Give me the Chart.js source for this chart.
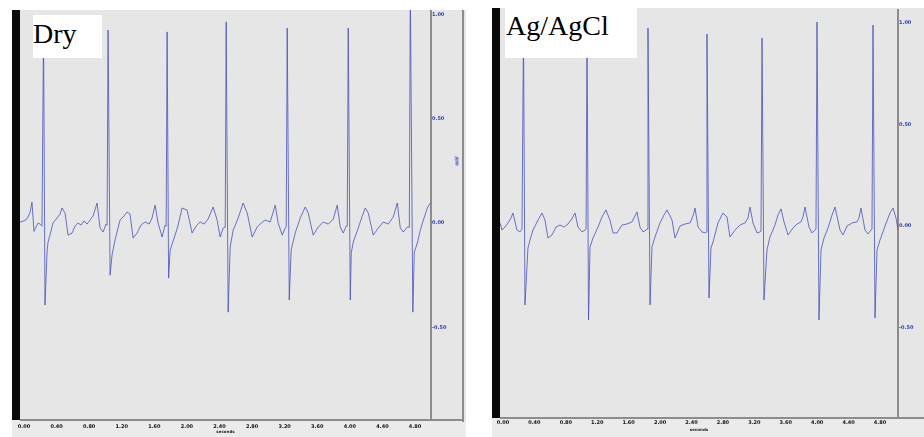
<!DOCTYPE html>
<html>
<head>
<meta charset="utf-8">
<script src="https://cdn.jsdelivr.net/npm/chart.js@4.4.1/dist/chart.umd.min.js"></script>
<style>
  body { margin: 0; background: #fff; width: 924px; height: 437px; position: relative; overflow: hidden; }
  .panel { position: absolute; background: #e6e6e6; }
  .bar { position: absolute; background: #0a0a0a; }
  canvas { position: absolute; }
  .tag { position: absolute; background: #fff; font-family: "Times New Roman", "Liberation Serif", "DejaVu Serif", serif; font-size: 28px; line-height: 28px; color: #000; }
  .tag span { position: absolute; white-space: nowrap; }
  .unit { position: absolute; font: bold 5px "DejaVu Sans", sans-serif; color: #2b3fb5; transform: rotate(-90deg); }
</style>
</head>
<body>
<div class="panel" style="left:12px;top:10px;width:454px;height:427px"></div>
<div class="panel" style="left:492px;top:8px;width:432px;height:429px"></div>
<canvas id="dry" width="454" height="427" style="left:12px;top:10px"></canvas>
<canvas id="ag" width="432" height="428" style="left:492px;top:9px"></canvas>
<div class="bar" style="left:12px;top:10px;width:8px;height:410px"></div>
<div class="bar" style="left:492px;top:8px;width:8px;height:410px"></div>
<div class="tag" style="left:33px;top:15px;width:69px;height:43px"><span style="left:0;top:5px">Dry</span></div>
<div class="tag" style="left:505px;top:8px;width:132px;height:50px"><span style="left:1px;top:4px">Ag/AgCl</span></div>
<div class="unit" style="left:452px;top:158px">mV</div>
<script>
// Dry electrode trace (seconds, mV)
let dryTime = [-0.049, 0.000, 0.037, 0.074, 0.098, 0.123, 0.147, 0.172, 0.197, 0.221, 0.240, 0.258, 0.283, 0.295, 0.319, 0.356, 0.405, 0.442, 0.467, 0.504, 0.541, 0.590, 0.627, 0.663, 0.700, 0.737, 0.774, 0.811, 0.848, 0.897, 0.934, 0.971, 1.007, 1.020, 1.032, 1.057, 1.081, 1.118, 1.179, 1.229, 1.265, 1.302, 1.339, 1.388, 1.437, 1.486, 1.536, 1.572, 1.609, 1.646, 1.695, 1.732, 1.745, 1.757, 1.775, 1.794, 1.855, 1.892, 1.941, 2.002, 2.064, 2.113, 2.162, 2.211, 2.260, 2.322, 2.371, 2.408, 2.445, 2.470, 2.482, 2.506, 2.531, 2.568, 2.629, 2.690, 2.740, 2.801, 2.862, 2.912, 2.961, 3.022, 3.084, 3.120, 3.170, 3.206, 3.219, 3.231, 3.256, 3.280, 3.329, 3.391, 3.452, 3.489, 3.550, 3.612, 3.673, 3.735, 3.796, 3.845, 3.882, 3.919, 3.956, 3.968, 3.980, 4.005, 4.017, 4.042, 4.103, 4.152, 4.189, 4.226, 4.287, 4.349, 4.410, 4.472, 4.533, 4.582, 4.619, 4.656, 4.705, 4.730, 4.742, 4.773, 4.791, 4.828, 4.865, 4.902, 4.951, 4.988];
let dryMv = [0.005, 0.010, 0.020, 0.050, 0.100, -0.040, -0.020, 0.000, -0.005, -0.015, 0.925, -0.393, -0.139, -0.091, -0.058, 0.000, 0.024, 0.043, 0.072, 0.048, -0.058, -0.048, -0.014, 0.000, -0.010, 0.010, -0.005, 0.014, 0.034, 0.096, -0.024, -0.043, -0.005, -0.010, 0.925, -0.250, -0.153, -0.081, 0.014, 0.034, 0.053, 0.043, -0.072, -0.048, -0.010, 0.005, -0.005, 0.024, 0.086, 0.000, -0.067, -0.010, -0.015, 0.916, -0.264, -0.129, -0.058, -0.010, 0.072, 0.062, -0.048, -0.014, 0.005, -0.005, 0.019, 0.077, 0.014, -0.067, -0.024, -0.020, 0.964, -0.427, -0.115, -0.034, 0.024, 0.096, 0.048, -0.067, -0.019, 0.000, 0.014, 0.005, 0.086, 0.000, -0.058, -0.024, -0.020, 0.935, -0.369, -0.129, -0.048, 0.024, 0.077, 0.048, -0.058, -0.019, 0.005, -0.005, 0.019, 0.086, -0.019, -0.048, -0.014, -0.015, 0.935, -0.369, -0.144, -0.091, -0.024, 0.034, 0.072, 0.048, -0.058, -0.024, 0.005, -0.005, 0.029, 0.096, -0.024, -0.043, -0.019, -0.020, 1.120, -0.427, -0.139, -0.096, -0.034, 0.014, 0.072, 0.096];

// Ag/AgCl electrode trace (seconds, mV)
let agTime = [-0.038, -0.013, 0.025, 0.064, 0.102, 0.127, 0.178, 0.216, 0.242, 0.261, 0.280, 0.318, 0.344, 0.382, 0.446, 0.497, 0.535, 0.573, 0.624, 0.675, 0.726, 0.777, 0.828, 0.866, 0.917, 0.955, 1.006, 1.044, 1.058, 1.070, 1.089, 1.108, 1.146, 1.210, 1.260, 1.311, 1.362, 1.401, 1.452, 1.515, 1.579, 1.642, 1.706, 1.744, 1.783, 1.821, 1.834, 1.846, 1.872, 1.897, 1.935, 1.999, 2.050, 2.088, 2.152, 2.190, 2.254, 2.317, 2.381, 2.419, 2.445, 2.483, 2.534, 2.572, 2.585, 2.597, 2.623, 2.648, 2.674, 2.737, 2.801, 2.852, 2.890, 2.954, 3.018, 3.081, 3.119, 3.145, 3.183, 3.234, 3.272, 3.285, 3.298, 3.323, 3.361, 3.399, 3.463, 3.501, 3.540, 3.578, 3.629, 3.692, 3.743, 3.794, 3.819, 3.845, 3.896, 3.934, 3.972, 3.985, 3.998, 4.023, 4.049, 4.087, 4.138, 4.189, 4.227, 4.291, 4.329, 4.380, 4.444, 4.507, 4.532, 4.558, 4.609, 4.647, 4.685, 4.698, 4.711, 4.736, 4.762, 4.800, 4.864, 4.927, 4.966, 5.004, 5.029];
let agMv = [0.015, -0.020, -0.005, 0.015, 0.039, 0.064, -0.020, -0.029, -0.015, 0.973, -0.388, -0.108, -0.069, -0.020, 0.029, 0.064, 0.029, -0.059, -0.044, -0.005, 0.005, -0.005, 0.010, 0.029, 0.064, -0.005, -0.029, -0.020, -0.015, 0.973, -0.462, -0.103, -0.059, -0.005, 0.044, 0.079, 0.029, -0.034, -0.034, 0.005, 0.010, 0.020, 0.069, -0.005, -0.029, -0.020, -0.015, 0.973, -0.388, -0.103, -0.054, 0.015, 0.054, 0.079, 0.029, -0.059, 0.000, 0.010, 0.015, 0.049, 0.088, -0.005, -0.029, -0.034, -0.030, 0.944, -0.354, -0.108, -0.079, 0.015, 0.064, 0.044, -0.054, -0.020, 0.005, 0.015, 0.039, 0.093, 0.015, -0.034, -0.029, -0.025, 0.924, -0.364, -0.118, -0.054, 0.005, 0.054, 0.084, 0.020, -0.044, -0.010, 0.010, 0.020, 0.044, 0.093, -0.005, -0.034, -0.020, -0.015, 1.003, -0.462, -0.118, -0.059, -0.010, 0.054, 0.093, -0.020, -0.044, 0.000, 0.015, 0.020, 0.039, 0.088, -0.020, -0.039, -0.020, -0.015, 0.988, -0.452, -0.118, -0.069, 0.000, 0.064, 0.088, 0.039, -0.020];

let xTicks = [0, 0.4, 0.8, 1.2, 1.6, 2.0, 2.4, 2.8, 3.2, 3.6, 4.0, 4.4, 4.8];
let yTicks = [-0.5, 0, 0.5, 1.0];

const frame = {
    id: 'frame',
    beforeDraw(chart, args, opts) {
        const { ctx, chartArea: a, width, height } = chart;
        ctx.save();
        ctx.fillStyle = '#e6e6e6';
        ctx.fillRect(0, 0, width, height);
        ctx.fillStyle = '#ebebeb';
        ctx.fillRect(0, a.bottom, width, height - a.bottom);
        ctx.strokeStyle = '#8c8c8c';
        ctx.lineWidth = 2;
        ctx.beginPath();
        ctx.moveTo(a.right, a.top);
        ctx.lineTo(a.right, a.bottom + 1);
        ctx.moveTo(a.left, a.bottom);
        ctx.lineTo(opts.outer || width, a.bottom);
        if (opts.outer) {
            ctx.moveTo(opts.outer, 0);
            ctx.lineTo(opts.outer, a.bottom + 2);
        }
        ctx.stroke();
        ctx.restore();
    }
};

function ecgChart(id, time, mv, o) {
    return new Chart(document.getElementById(id), {
        type: 'line',
        data: {
            datasets: [{
                data: time.map((t, i) => ({ x: t, y: mv[i] })),
                borderColor: 'rgba(70, 82, 186, 0.8)',
                borderWidth: 1,
                pointRadius: 0,
                tension: 0
            }]
        },
        options: {
            responsive: false,
            animation: false,
            events: [],
            layout: { padding: { left: 8, top: 0, right: 0, bottom: 0 } },
            plugins: { legend: { display: false }, tooltip: { enabled: false }, frame: { outer: o.outer } },
            scales: {
                x: {
                    type: 'linear', min: o.xMin, max: o.xMax,
                    grid: { display: false, drawTicks: false }, border: { display: false },
                    afterBuildTicks: s => { s.ticks = xTicks.map(v => ({ value: v })); },
                    afterFit: s => { s.height = o.xh; s.paddingLeft = 0; s.paddingRight = 0; },
                    ticks: { color: '#111', padding: o.xpad, maxRotation: 0, autoSkip: false,
                             font: { family: 'DejaVu Sans', size: 5, weight: 'bold' },
                             callback: v => v.toFixed(2) },
                    title: { display: true, text: 'seconds', color: '#222', padding: { top: 0, bottom: o.tpad },
                             font: { family: 'DejaVu Sans', size: 4, weight: 'bold' } }
                },
                y: {
                    position: 'right', min: o.yMin, max: o.yMax,
                    grid: { display: false, drawTicks: false }, border: { display: false },
                    afterBuildTicks: s => { s.ticks = yTicks.map(v => ({ value: v })); },
                    afterFit: s => { s.width = o.yw; s.paddingTop = 0; s.paddingBottom = 0; },
                    ticks: { color: '#2b3fb5', padding: 1, autoSkip: false,
                             font: { family: 'DejaVu Sans', size: 5, weight: 'bold' },
                             callback: v => v.toFixed(2) }
                }
            }
        },
        plugins: [frame]
    });
}

ecgChart('dry', dryTime, dryMv, { xMin: -0.049, xMax: 4.996, yMin: -0.944, yMax: 1.021, xh: 17, yw: 35, xpad: 4, tpad: 3, outer: 451 });
ecgChart('ag', agTime, agMv, { xMin: -0.038, xMax: 5.029, yMin: -0.944, yMax: 1.067, xh: 19, yw: 26, xpad: 2, tpad: 5 });
</script>
</body>
</html>
